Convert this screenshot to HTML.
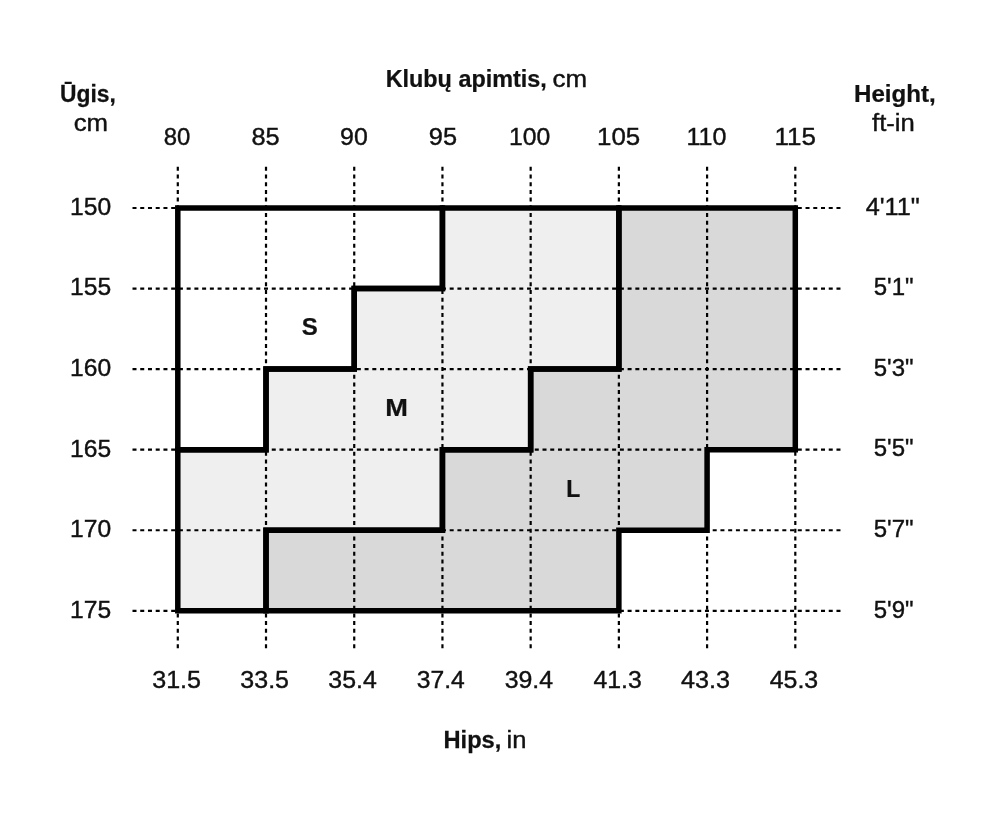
<!DOCTYPE html>
<html lang="lt">
<head>
<meta charset="utf-8">
<title>Dydžių lentelė</title>
<style>
html,body{margin:0;padding:0;background:#fff;}
body{width:1000px;height:821px;overflow:hidden;}
svg{display:block;}
text{font-family:"Liberation Sans",sans-serif;fill:#111;}
.r{stroke:#111;stroke-width:0.4;}
.b{font-weight:bold;stroke:#111;stroke-width:0.25;}
.dot{stroke:#000;stroke-width:2.2;fill:none;}
.dv{stroke-dasharray:4 3.7;}
.dh{stroke-dasharray:4 3.736;}
.thick{stroke:#000;stroke-width:5.5;fill:none;stroke-linejoin:miter;}
</style>
</head>
<body>
<svg width="1000" height="821" viewBox="0 0 1000 821">
<rect width="1000" height="821" fill="#ffffff"/>
<path d="M442.44 208.00 L618.87 208.00 L618.87 369.12 L530.66 369.12 L530.66 449.68 L442.44 449.68 L442.44 530.24 L266.01 530.24 L266.01 610.80 L177.80 610.80 L177.80 449.68 L266.01 449.68 L266.01 369.12 L354.23 369.12 L354.23 288.56 L442.44 288.56 Z" fill="#efefef"/>
<path d="M618.87 208.00 L795.30 208.00 L795.30 449.68 L707.09 449.68 L707.09 530.24 L618.87 530.24 L618.87 610.80 L266.01 610.80 L266.01 530.24 L442.44 530.24 L442.44 449.68 L530.66 449.68 L530.66 369.12 L618.87 369.12 Z" fill="#d9d9d9"/>
<g class="dot">
<line class="dv" x1="177.80" y1="166.8" x2="177.80" y2="648.4"/>
<line class="dv" x1="266.01" y1="166.8" x2="266.01" y2="648.4"/>
<line class="dv" x1="354.23" y1="166.8" x2="354.23" y2="648.4"/>
<line class="dv" x1="442.44" y1="166.8" x2="442.44" y2="648.4"/>
<line class="dv" x1="530.66" y1="166.8" x2="530.66" y2="648.4"/>
<line class="dv" x1="618.87" y1="166.8" x2="618.87" y2="648.4"/>
<line class="dv" x1="707.09" y1="166.8" x2="707.09" y2="648.4"/>
<line class="dv" x1="795.30" y1="166.8" x2="795.30" y2="648.4"/>
<line class="dh" x1="132.5" y1="208.00" x2="840.5" y2="208.00"/>
<line class="dh" x1="132.5" y1="288.56" x2="840.5" y2="288.56"/>
<line class="dh" x1="132.5" y1="369.12" x2="840.5" y2="369.12"/>
<line class="dh" x1="132.5" y1="449.68" x2="840.5" y2="449.68"/>
<line class="dh" x1="132.5" y1="530.24" x2="840.5" y2="530.24"/>
<line class="dh" x1="132.5" y1="610.80" x2="840.5" y2="610.80"/>
</g>
<g class="thick">
<path d="M177.80 208.00 L442.44 208.00 L442.44 288.56 L354.23 288.56 L354.23 369.12 L266.01 369.12 L266.01 449.68 L177.80 449.68 Z"/>
<path d="M442.44 208.00 L618.87 208.00 L618.87 369.12 L530.66 369.12 L530.66 449.68 L442.44 449.68 L442.44 530.24 L266.01 530.24 L266.01 610.80 L177.80 610.80 L177.80 449.68 L266.01 449.68 L266.01 369.12 L354.23 369.12 L354.23 288.56 L442.44 288.56 Z"/>
<path d="M618.87 208.00 L795.30 208.00 L795.30 449.68 L707.09 449.68 L707.09 530.24 L618.87 530.24 L618.87 610.80 L266.01 610.80 L266.01 530.24 L442.44 530.24 L442.44 449.68 L530.66 449.68 L530.66 369.12 L618.87 369.12 Z"/>
</g>
<text class="r" font-size="24.2" transform="translate(163.81 145.30) scale(0.9889 1)">80</text>
<text class="r" font-size="24.2" transform="translate(251.46 145.30) scale(1.0480 1)">85</text>
<text class="r" font-size="24.2" transform="translate(340.06 145.30) scale(1.0292 1)">90</text>
<text class="r" font-size="24.2" transform="translate(428.84 145.30) scale(1.0489 1)">95</text>
<text class="r" font-size="24.2" transform="translate(508.93 145.30) scale(1.0222 1)">100</text>
<text class="r" font-size="24.2" transform="translate(597.06 145.30) scale(1.0707 1)">105</text>
<text class="r" font-size="24.2" transform="translate(686.41 145.30) scale(1.0373 1)">110</text>
<text class="r" font-size="24.2" transform="translate(774.55 145.30) scale(1.0746 1)">115</text>
<text class="r" font-size="24.2" transform="translate(152.16 688.00) scale(1.0381 1)">31.5</text>
<text class="r" font-size="24.2" transform="translate(240.36 688.00) scale(1.0336 1)">33.5</text>
<text class="r" font-size="24.2" transform="translate(328.37 688.00) scale(1.0273 1)">35.4</text>
<text class="r" font-size="24.2" transform="translate(416.67 688.00) scale(1.0208 1)">37.4</text>
<text class="r" font-size="24.2" transform="translate(504.67 688.00) scale(1.0273 1)">39.4</text>
<text class="r" font-size="24.2" transform="translate(593.39 688.00) scale(1.0267 1)">41.3</text>
<text class="r" font-size="24.2" transform="translate(680.89 688.00) scale(1.0421 1)">43.3</text>
<text class="r" font-size="24.2" transform="translate(769.69 688.00) scale(1.0311 1)">45.3</text>
<text class="r" font-size="24.2" transform="translate(70.04 214.90) scale(1.0170 1)">150</text>
<text class="r" font-size="24.2" transform="translate(70.04 295.46) scale(1.0182 1)">155</text>
<text class="r" font-size="24.2" transform="translate(70.04 376.02) scale(1.0170 1)">160</text>
<text class="r" font-size="24.2" transform="translate(70.04 456.58) scale(1.0182 1)">165</text>
<text class="r" font-size="24.2" transform="translate(70.04 537.14) scale(1.0170 1)">170</text>
<text class="r" font-size="24.2" transform="translate(70.04 617.70) scale(1.0182 1)">175</text>
<text class="r" font-size="24.2" transform="translate(865.69 214.80) scale(1.0454 1)">4&#x27;11&quot;</text>
<text class="r" font-size="24.2" transform="translate(873.75 295.36) scale(0.9920 1)">5&#x27;1&quot;</text>
<text class="r" font-size="24.2" transform="translate(873.75 375.92) scale(0.9920 1)">5&#x27;3&quot;</text>
<text class="r" font-size="24.2" transform="translate(873.75 456.48) scale(0.9920 1)">5&#x27;5&quot;</text>
<text class="r" font-size="24.2" transform="translate(873.75 537.04) scale(0.9920 1)">5&#x27;7&quot;</text>
<text class="r" font-size="24.2" transform="translate(873.75 617.60) scale(0.9920 1)">5&#x27;9&quot;</text>
<text class="b" font-size="24.7" transform="translate(385.63 87.00) scale(0.9477 1)">Klubų apimtis,</text>
<text class="r" font-size="24.2" transform="translate(552.59 87.00) scale(1.0727 1)">cm</text>
<text class="b" font-size="24.7" transform="translate(443.51 748.20) scale(0.9576 1)">Hips,</text>
<text class="r" font-size="24.2" transform="translate(506.58 748.20) scale(1.0577 1)">in</text>
<text class="b" font-size="24.7" transform="translate(59.99 101.60) scale(0.9239 1)">Ūgis,</text>
<text class="r" font-size="24.2" transform="translate(73.70 130.60) scale(1.0661 1)">cm</text>
<text class="b" font-size="24.7" transform="translate(853.99 101.60) scale(0.9761 1)">Height,</text>
<text class="r" font-size="24.2" transform="translate(872.02 130.60) scale(1.0608 1)">ft-in</text>
<text class="b" font-size="23.7" transform="translate(301.74 335.30) scale(1.0129 1)">S</text>
<text class="b" font-size="23.7" transform="translate(385.31 416.00) scale(1.1482 1)">M</text>
<text class="b" font-size="23.7" transform="translate(566.16 496.80) scale(0.9667 1)">L</text>
</svg>
</body>
</html>
